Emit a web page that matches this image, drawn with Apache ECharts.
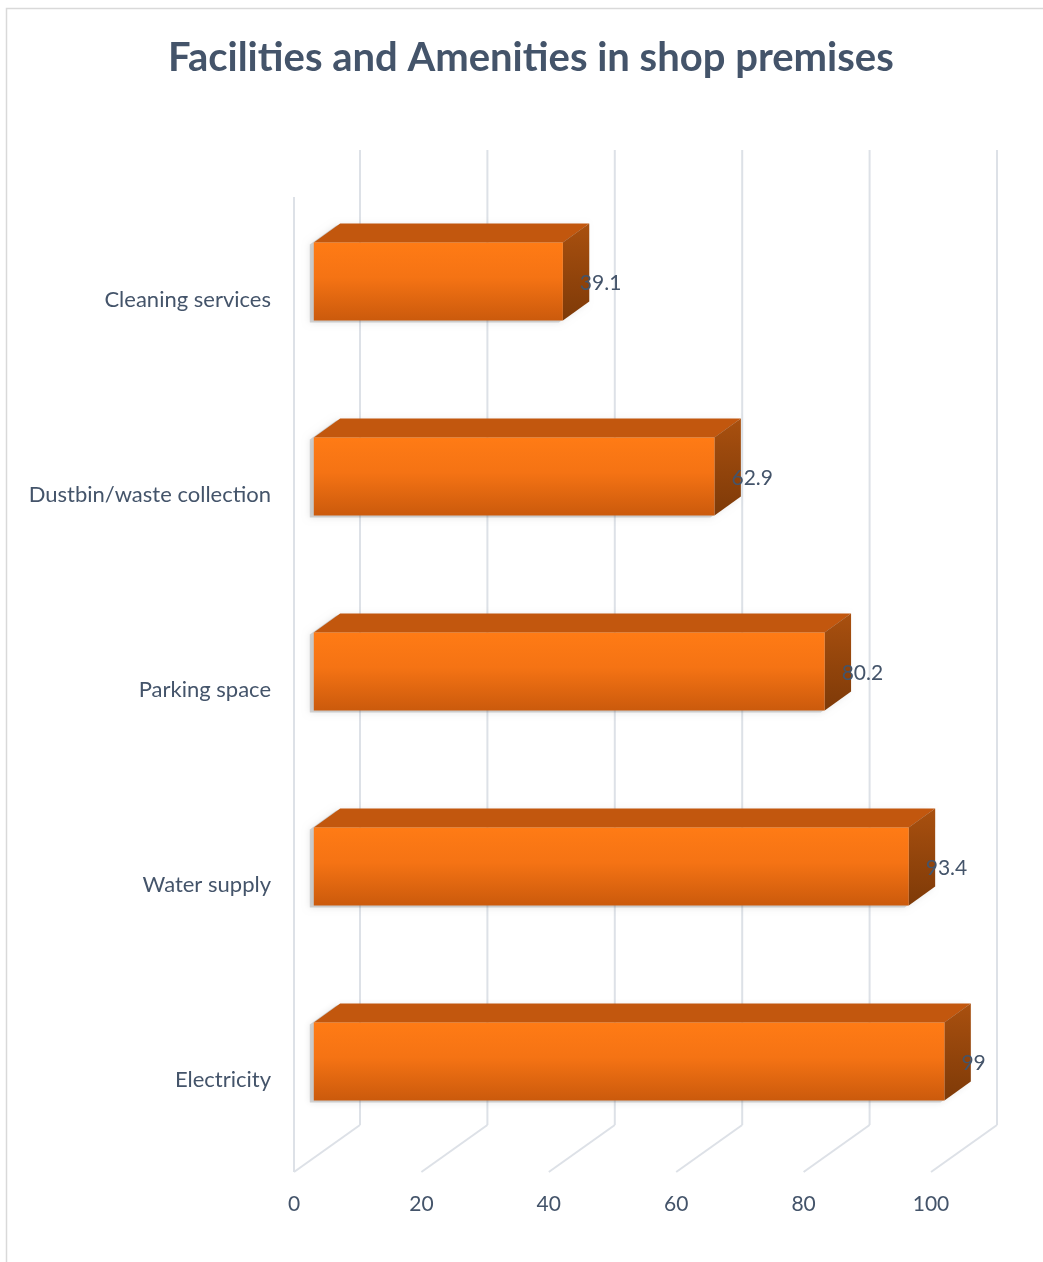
<!DOCTYPE html>
<html>
<head>
<meta charset="utf-8">
<script src="https://cdn.jsdelivr.net/npm/echarts@6/dist/echarts.min.js"></script>
<style>
html,body{margin:0;padding:0;background:#fff;}
#chart{width:1043px;height:1262px;}
</style>
</head>
<body>
<div id="chart"></div>
<script>
// ---- data ----
var categories = ['Electricity', 'Water supply', 'Parking space', 'Dustbin/waste collection', 'Cleaning services'];
var values = [99, 93.4, 80.2, 62.9, 39.1];
var valueTicks = [0, 20, 40, 60, 80, 100];
var titleText = 'Facilities and Amenities in shop premises';

var FONT = 'Lato, "Open Sans", sans-serif';
var TEXT = '#44546A';
var GRIDC = '#DDE1E7';
// depth vector of the 3D box (front plane -> back wall)
var DX = 66, DY = -47;

var chart = echarts.init(document.getElementById('chart'), null, {renderer: 'canvas'});

var option = {
  backgroundColor: '#ffffff',
  animation: false,
  title: {
    text: titleText,
    left: 168,
    top: 38,
    padding: 0,
    textStyle: {color: TEXT, fontFamily: FONT, fontWeight: 'bold', fontSize: 40}
  },
  graphic: [{
    type: 'rect', silent: true, z: -10,
    shape: {x: 6.5, y: 8.5, width: 1100, height: 1300},
    style: {fill: 'none', stroke: '#D9D9D9', lineWidth: 1.5}
  }],
  grid: {left: 294, top: 197, width: 637, height: 975, containLabel: false},
  xAxis: {
    type: 'value', min: 0, max: 100, interval: 20,
    axisLine: {show: false}, axisTick: {show: false}, splitLine: {show: false},
    axisLabel: {color: TEXT, fontFamily: FONT, fontSize: 21, margin: 22}
  },
  yAxis: {
    type: 'category', data: categories,
    axisLine: {show: false}, axisTick: {show: false}, splitLine: {show: false},
    axisLabel: {
      margin: 23,
      formatter: function (v) { return '{a|' + v + '}'; },
      rich: {a: {color: TEXT, fontFamily: FONT, fontSize: 22, padding: [10, 0, 0, 0]}}
    }
  },
  series: [
    {
      type: 'custom', name: 'walls', silent: true, z: 1,
      data: valueTicks.map(function (v) { return [v]; }),
      encode: {x: 0},
      renderItem: function (params, api) {
        var cs = params.coordSys;
        var top = cs.y, bottom = cs.y + cs.height;
        var v = api.value(0);
        var x = api.coord([v, 0])[0];
        var children = [];
        var ls = {stroke: GRIDC, lineWidth: 2, fill: 'none'};
        // back wall vertical gridline
        children.push({type: 'line', shape: {x1: x + DX, y1: top + DY, x2: x + DX, y2: bottom + DY}, style: ls});
        // floor diagonal
        children.push({type: 'line', shape: {x1: x, y1: bottom, x2: x + DX, y2: bottom + DY}, style: ls});
        if (params.dataIndex === 0) {
          // side wall front edge
          children.push({type: 'line', shape: {x1: x, y1: top, x2: x, y2: bottom}, style: ls});
        }
        return {type: 'group', children: children};
      }
    },
    {
      type: 'custom', name: 'bars', z: 3,
      data: values.map(function (v, i) { return [v, i]; }),
      encode: {x: 0, y: 1},
      renderItem: function (params, api) {
        var v = api.value(0), idx = api.value(1);
        var band = api.size([0, 1])[1];
        var p0 = api.coord([0, idx]);
        var p1 = api.coord([v, idx]);
        var f = 0.3, d = 0.4; // depth position / thickness of bars
        var ox = DX * f, oy = DY * f;
        var ddx = DX * d, ddy = DY * d;
        var h = band * 0.4;
        var x0 = p0[0] + ox, x1 = p1[0] + ox;
        var yc = p0[1] + oy + 1;
        var yt = yc - h / 2, yb = yc + h / 2;
        var silhouette = [[x0, yt], [x0 + ddx, yt + ddy], [x1 + ddx, yt + ddy], [x1 + ddx, yb + ddy], [x1, yb], [x0, yb]];
        return {
          type: 'group',
          children: [
            {
              type: 'polygon', shape: {points: silhouette.map(function (p) { return [p[0] - 4, p[1] + 2]; })},
              style: {fill: 'rgba(110,110,110,0.28)', shadowBlur: 7, shadowColor: 'rgba(0,0,0,0.35)'}
            },
            {
              type: 'polygon',
              shape: {points: [[x0, yt], [x1, yt], [x1 + ddx, yt + ddy], [x0 + ddx, yt + ddy]]},
              style: {fill: '#C2570E'}
            },
            {
              type: 'polygon',
              shape: {points: [[x1, yt], [x1 + ddx, yt + ddy], [x1 + ddx, yb + ddy], [x1, yb]]},
              style: {fill: new echarts.graphic.LinearGradient(0, 0, 0, 1, [
                {offset: 0, color: '#A9500F'}, {offset: 1, color: '#7E3A08'}])}
            },
            {
              type: 'rect',
              shape: {x: x0, y: yt, width: x1 - x0, height: yb - yt},
              style: {fill: new echarts.graphic.LinearGradient(0, 0, 0, 1, [
                {offset: 0, color: '#FF7B15'}, {offset: 0.45, color: '#F57314'}, {offset: 1, color: '#CB5A0C'}])}
            },
            {
              type: 'text', z2: 10,
              style: {
                x: x1 + 17, y: yc + 2, text: String(v),
                fill: TEXT, font: '21px ' + FONT,
                textAlign: 'left', textVerticalAlign: 'middle'
              }
            }
          ]
        };
      }
    }
  ]
};
chart.setOption(option);
</script>
</body>
</html>
